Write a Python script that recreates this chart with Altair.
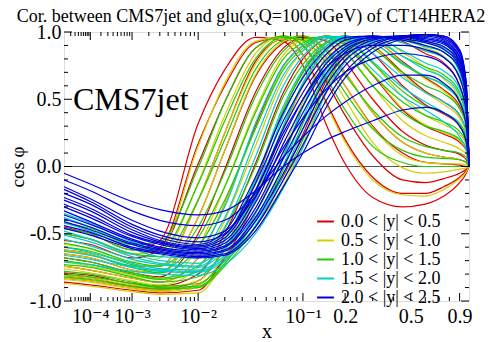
import altair as alt
import pandas as pd

# ---------------- data ----------------
XG = [1e-5, 1e-4, 1e-3, 3e-3, 1e-2, 2e-2, 4e-2, 7e-2, 0.1, 0.15, 0.2, 0.3, 0.45, 0.6, 0.75, 0.9, 0.97, 1.0]

BINS = ["0.0 < |y| < 0.5", "0.5 < |y| < 1.0", "1.0 < |y| < 1.5", "1.5 < |y| < 2.0", "2.0 < |y| < 2.5"]
COLORS = ["#dd0000", "#d6cc00", "#22cc00", "#00cccc", "#0000dd"]

RED = [
    [-0.45, -0.50, -0.62, -0.55, 0.32, 0.72, 0.96, 0.93, 0.75, 0.30, 0.02, -0.23, -0.30, -0.28, -0.22, -0.12, -0.05, 0.00],
    [-0.50, -0.54, -0.65, -0.60, 0.17, 0.60, 0.92, 0.96, 0.83, 0.47, 0.20, -0.08, -0.20, -0.20, -0.15, -0.08, -0.03, 0.00],
    [-0.55, -0.58, -0.68, -0.62, 0.02, 0.48, 0.88, 0.97, 0.90, 0.62, 0.38, 0.08, -0.10, -0.12, -0.09, -0.05, -0.02, 0.00],
    [-0.62, -0.65, -0.74, -0.74, -0.25, 0.25, 0.78, 0.95, 0.96, 0.80, 0.60, 0.30, 0.10, 0.03, 0.02, 0.01, 0.00, 0.00],
    [-0.65, -0.68, -0.77, -0.79, -0.38, 0.12, 0.67, 0.92, 0.97, 0.87, 0.70, 0.40, 0.18, 0.10, 0.07, 0.05, 0.03, 0.00],
    [-0.68, -0.71, -0.79, -0.82, -0.50, -0.02, 0.55, 0.88, 0.96, 0.93, 0.78, 0.50, 0.26, 0.16, 0.12, 0.09, 0.05, 0.00],
    [-0.74, -0.77, -0.83, -0.86, -0.68, -0.28, 0.30, 0.75, 0.90, 0.97, 0.92, 0.68, 0.42, 0.30, 0.24, 0.18, 0.12, 0.00],
    [-0.79, -0.81, -0.87, -0.89, -0.80, -0.50, 0.02, 0.55, 0.80, 0.95, 0.97, 0.84, 0.60, 0.46, 0.39, 0.30, 0.20, 0.00],
    [-0.81, -0.83, -0.89, -0.91, -0.85, -0.60, -0.12, 0.42, 0.70, 0.92, 0.97, 0.90, 0.70, 0.56, 0.48, 0.38, 0.25, 0.00],
    [-0.83, -0.85, -0.90, -0.92, -0.88, -0.68, -0.25, 0.28, 0.60, 0.88, 0.96, 0.94, 0.78, 0.66, 0.57, 0.45, 0.30, 0.00],
    [-0.86, -0.88, -0.92, -0.94, -0.92, -0.68, -0.38, -0.07, 0.24, 0.65, 0.85, 0.97, 0.93, 0.84, 0.77, 0.60, 0.40, 0.00],
]
YELLOW = [
    [-0.50, -0.54, -0.65, -0.62, 0.15, 0.62, 0.93, 0.96, 0.82, 0.45, 0.18, -0.10, -0.21, -0.22, -0.17, -0.09, -0.04, 0.00],
    [-0.58, -0.61, -0.71, -0.68, -0.12, 0.38, 0.84, 0.97, 0.93, 0.72, 0.50, 0.18, -0.01, -0.05, -0.04, -0.02, -0.01, 0.00],
    [-0.62, -0.65, -0.74, -0.74, -0.25, 0.25, 0.76, 0.95, 0.95, 0.80, 0.60, 0.29, 0.08, 0.03, 0.02, 0.02, 0.01, 0.00],
    [-0.65, -0.68, -0.77, -0.79, -0.38, 0.12, 0.68, 0.93, 0.97, 0.87, 0.70, 0.40, 0.18, 0.10, 0.07, 0.05, 0.03, 0.00],
    [-0.71, -0.74, -0.81, -0.84, -0.60, -0.15, 0.42, 0.83, 0.94, 0.96, 0.86, 0.60, 0.34, 0.23, 0.18, 0.13, 0.09, 0.00],
    [-0.74, -0.77, -0.83, -0.86, -0.68, -0.28, 0.28, 0.74, 0.90, 0.97, 0.91, 0.69, 0.43, 0.31, 0.25, 0.19, 0.13, 0.00],
    [-0.76, -0.79, -0.85, -0.88, -0.75, -0.40, 0.15, 0.65, 0.86, 0.97, 0.95, 0.77, 0.52, 0.38, 0.31, 0.24, 0.16, 0.00],
    [-0.81, -0.83, -0.88, -0.90, -0.85, -0.60, -0.10, 0.42, 0.72, 0.92, 0.97, 0.90, 0.68, 0.55, 0.46, 0.36, 0.24, 0.00],
    [-0.83, -0.85, -0.90, -0.92, -0.88, -0.66, -0.22, 0.27, 0.60, 0.87, 0.95, 0.94, 0.77, 0.65, 0.56, 0.43, 0.29, 0.00],
    [-0.84, -0.86, -0.91, -0.93, -0.90, -0.72, -0.35, 0.12, 0.48, 0.82, 0.93, 0.97, 0.85, 0.74, 0.65, 0.50, 0.33, 0.00],
    [-0.87, -0.89, -0.93, -0.95, -0.94, -0.72, -0.45, -0.14, 0.17, 0.58, 0.80, 0.95, 0.96, 0.88, 0.82, 0.65, 0.44, 0.00],
]
GREEN = [
    [-0.42, -0.46, -0.58, -0.56, -0.01, 0.48, 0.88, 0.97, 0.90, 0.65, 0.42, 0.15, 0.03, 0.00, 0.00, 0.00, 0.00, 0.00],
    [-0.46, -0.50, -0.62, -0.62, -0.13, 0.34, 0.80, 0.96, 0.94, 0.76, 0.55, 0.28, 0.12, 0.07, 0.06, 0.05, 0.03, 0.00],
    [-0.50, -0.54, -0.65, -0.67, -0.25, 0.20, 0.72, 0.94, 0.97, 0.85, 0.68, 0.42, 0.22, 0.15, 0.12, 0.10, 0.07, 0.00],
    [-0.57, -0.61, -0.71, -0.74, -0.45, -0.04, 0.52, 0.86, 0.95, 0.96, 0.85, 0.60, 0.40, 0.30, 0.26, 0.20, 0.14, 0.00],
    [-0.60, -0.63, -0.73, -0.77, -0.53, -0.15, 0.40, 0.80, 0.92, 0.97, 0.90, 0.68, 0.48, 0.38, 0.33, 0.26, 0.18, 0.00],
    [-0.63, -0.66, -0.75, -0.79, -0.60, -0.25, 0.28, 0.72, 0.88, 0.97, 0.94, 0.77, 0.56, 0.45, 0.40, 0.32, 0.22, 0.00],
    [-0.68, -0.71, -0.79, -0.83, -0.74, -0.46, 0.00, 0.52, 0.76, 0.93, 0.97, 0.88, 0.70, 0.60, 0.54, 0.43, 0.30, 0.00],
    [-0.70, -0.73, -0.80, -0.84, -0.78, -0.54, -0.10, 0.42, 0.70, 0.90, 0.96, 0.92, 0.76, 0.67, 0.61, 0.49, 0.34, 0.00],
    [-0.73, -0.75, -0.82, -0.86, -0.82, -0.62, -0.20, 0.30, 0.62, 0.87, 0.95, 0.95, 0.82, 0.74, 0.68, 0.55, 0.37, 0.00],
    [-0.78, -0.80, -0.86, -0.89, -0.87, -0.70, -0.35, 0.07, 0.44, 0.78, 0.91, 0.97, 0.92, 0.86, 0.81, 0.67, 0.46, 0.00],
    [-0.80, -0.82, -0.87, -0.90, -0.89, -0.72, -0.40, -0.02, 0.32, 0.70, 0.87, 0.96, 0.95, 0.90, 0.85, 0.71, 0.49, 0.00],
    [-0.82, -0.84, -0.89, -0.91, -0.90, -0.74, -0.45, -0.10, 0.20, 0.62, 0.83, 0.95, 0.97, 0.93, 0.89, 0.75, 0.52, 0.00],
]
CYAN = [
    [-0.35, -0.42, -0.56, -0.62, -0.60, -0.30, 0.32, 0.75, 0.90, 0.97, 0.92, 0.72, 0.52, 0.42, 0.33, 0.22, 0.12, 0.00],
    [-0.38, -0.45, -0.58, -0.64, -0.64, -0.38, 0.20, 0.68, 0.86, 0.96, 0.95, 0.78, 0.59, 0.48, 0.40, 0.30, 0.18, 0.00],
    [-0.42, -0.48, -0.61, -0.67, -0.68, -0.45, 0.07, 0.60, 0.82, 0.95, 0.97, 0.84, 0.66, 0.55, 0.48, 0.38, 0.25, 0.00],
    [-0.48, -0.54, -0.65, -0.70, -0.72, -0.55, -0.10, 0.45, 0.72, 0.92, 0.97, 0.92, 0.77, 0.67, 0.60, 0.48, 0.32, 0.00],
    [-0.51, -0.56, -0.67, -0.72, -0.74, -0.59, -0.18, 0.38, 0.67, 0.90, 0.96, 0.94, 0.82, 0.72, 0.66, 0.53, 0.36, 0.00],
    [-0.54, -0.59, -0.69, -0.73, -0.75, -0.62, -0.25, 0.30, 0.62, 0.87, 0.95, 0.96, 0.86, 0.77, 0.71, 0.58, 0.40, 0.00],
    [-0.60, -0.64, -0.72, -0.76, -0.77, -0.66, -0.35, 0.08, 0.45, 0.78, 0.91, 0.97, 0.92, 0.86, 0.81, 0.66, 0.46, 0.00],
    [-0.63, -0.66, -0.74, -0.77, -0.78, -0.68, -0.40, 0.01, 0.36, 0.73, 0.88, 0.96, 0.94, 0.89, 0.85, 0.70, 0.48, 0.00],
    [-0.66, -0.69, -0.75, -0.78, -0.79, -0.70, -0.44, -0.06, 0.28, 0.68, 0.85, 0.95, 0.96, 0.92, 0.88, 0.73, 0.50, 0.00],
    [-0.71, -0.73, -0.78, -0.80, -0.81, -0.73, -0.50, -0.16, 0.14, 0.56, 0.78, 0.93, 0.97, 0.95, 0.92, 0.78, 0.54, 0.00],
]
BLUE = [
    [-0.05, -0.13, -0.26, -0.32, -0.36, -0.33, -0.18, 0.00, 0.10, 0.20, 0.26, 0.34, 0.42, 0.44, 0.40, 0.30, 0.18, 0.00],
    [-0.10, -0.18, -0.33, -0.40, -0.44, -0.40, -0.20, 0.07, 0.22, 0.38, 0.48, 0.60, 0.68, 0.68, 0.62, 0.48, 0.30, 0.00],
    [-0.15, -0.24, -0.40, -0.48, -0.53, -0.48, -0.22, 0.14, 0.36, 0.58, 0.70, 0.80, 0.84, 0.82, 0.76, 0.60, 0.40, 0.00],
    [-0.17, -0.26, -0.43, -0.51, -0.56, -0.50, -0.18, 0.25, 0.50, 0.74, 0.84, 0.90, 0.90, 0.87, 0.81, 0.66, 0.45, 0.00],
    [-0.20, -0.28, -0.45, -0.53, -0.58, -0.48, -0.08, 0.40, 0.66, 0.88, 0.96, 0.97, 0.94, 0.90, 0.85, 0.72, 0.50, 0.00],
    [-0.23, -0.31, -0.47, -0.55, -0.59, -0.51, -0.13, 0.34, 0.60, 0.84, 0.94, 0.97, 0.95, 0.92, 0.87, 0.74, 0.52, 0.00],
    [-0.25, -0.33, -0.49, -0.56, -0.60, -0.53, -0.18, 0.28, 0.55, 0.80, 0.91, 0.96, 0.96, 0.93, 0.89, 0.76, 0.53, 0.00],
    [-0.28, -0.36, -0.51, -0.57, -0.61, -0.55, -0.23, 0.22, 0.50, 0.77, 0.89, 0.96, 0.97, 0.94, 0.91, 0.78, 0.54, 0.00],
    [-0.30, -0.38, -0.52, -0.58, -0.62, -0.57, -0.27, 0.17, 0.45, 0.74, 0.87, 0.95, 0.97, 0.95, 0.92, 0.79, 0.55, 0.00],
    [-0.33, -0.41, -0.54, -0.60, -0.63, -0.59, -0.31, 0.11, 0.40, 0.70, 0.85, 0.95, 0.97, 0.96, 0.93, 0.81, 0.56, 0.00],
    [-0.36, -0.43, -0.55, -0.61, -0.64, -0.60, -0.34, 0.06, 0.34, 0.66, 0.82, 0.94, 0.97, 0.97, 0.94, 0.82, 0.57, 0.00],
    [-0.39, -0.45, -0.57, -0.62, -0.65, -0.62, -0.38, 0.00, 0.28, 0.61, 0.79, 0.92, 0.97, 0.98, 0.95, 0.84, 0.59, 0.00],
    [-0.41, -0.47, -0.58, -0.63, -0.66, -0.63, -0.41, -0.05, 0.22, 0.56, 0.75, 0.90, 0.97, 0.98, 0.96, 0.85, 0.60, 0.00],
    [-0.44, -0.49, -0.60, -0.64, -0.67, -0.65, -0.45, -0.10, 0.16, 0.50, 0.70, 0.88, 0.96, 0.98, 0.97, 0.86, 0.61, 0.00],
    [-0.46, -0.51, -0.61, -0.65, -0.68, -0.66, -0.48, -0.15, 0.10, 0.45, 0.66, 0.85, 0.95, 0.98, 0.97, 0.87, 0.62, 0.00],
]
SERIES = [RED, YELLOW, GREEN, CYAN, BLUE]

X_MAJOR = [1e-4, 1e-3, 1e-2, 0.1, 0.2, 0.5, 0.9]
X_MAJOR_LABELS = ["10\u207b\u2074", "10\u207b\u00b3", "10\u207b\u00b2", "10\u207b\u00b9", "0.2", "0.5", "0.9"]
X_MINOR = [m * 10.0 ** k for k in range(-5, -1) for m in range(2, 10)] + [0.3, 0.4, 0.6, 0.7, 0.8]
Y_MAJOR = [-1.0, -0.5, 0.0, 0.5, 1.0]
Y_MAJOR_LABELS = ["-1.0", "-0.5", "0.0", "0.5", "1.0"]
Y_MINOR = [-0.9, -0.8, -0.7, -0.6, -0.4, -0.3, -0.2, -0.1, 0.1, 0.2, 0.3, 0.4, 0.6, 0.7, 0.8, 0.9]

TITLE = ["Cor. between CMS7jet and glu(x,Q=100.0GeV) of CT14HERA2"]
ANNOT = ["CMS7jet"]

# ---------------- layout ----------------
W, H = 405, 269
FONT = "Liberation Serif, Times New Roman, Times, DejaVu Serif, serif"


def label_expr(vals, labels):
    parts = []
    for v, lab in zip(vals, labels):
        tol = abs(v) * 1e-3 + 1e-9
        parts.append(f"abs(datum.value - ({v!r})) < {tol!r} ? '{lab}'")
    return " : ".join(parts) + " : ''"


xscale = alt.Scale(type="pow", exponent=0.2, domain=[1e-5, 1.0], nice=False, zero=False)
yscale = alt.Scale(domain=[-1.0, 1.0], nice=False, zero=False)

xaxis = alt.Axis(values=X_MAJOR, labelExpr=label_expr(X_MAJOR, X_MAJOR_LABELS), ticks=False,
                 domain=False, grid=False, labelFont=FONT, labelFontSize=20, labelColor="black",
                 labelPadding=5, labelFlush=False, labelOverlap=False, labelBound=False,
                 titleFont=FONT, titleFontSize=20, titleFontWeight="normal", titleColor="black",
                 titleY=36, titleBaseline="alphabetic")
yaxis = alt.Axis(values=Y_MAJOR, labelExpr=label_expr(Y_MAJOR, Y_MAJOR_LABELS), ticks=False,
                 domain=False, grid=False, labelFont=FONT, labelFontSize=20, labelColor="black",
                 labelPadding=3, labelFlush=False, labelOverlap=False,
                 titleFont=FONT, titleFontSize=19, titleFontWeight="normal", titleColor="black",
                 titleX=-47, titleY=H / 2, titleBaseline="middle", titleAngle=270)


def X(field):
    return alt.X(field, type="quantitative", scale=xscale, axis=xaxis, title="x")


def Y(field):
    return alt.Y(field, type="quantitative", scale=yscale, axis=yaxis, title="cos \u03c6")


color = alt.Color("bin:N", scale=alt.Scale(domain=BINS, range=COLORS),
                  legend=alt.Legend(title=None, orient="none", legendX=252, legendY=180,
                                    symbolType="stroke", symbolSize=280, symbolStrokeWidth=2,
                                    labelFont=FONT, labelFontSize=18, labelColor="black",
                                    labelOffset=6, rowPadding=-2, padding=0))

layers = []

zero_df = pd.DataFrame({"z": [0.0]})
layers.append(alt.Chart(zero_df).mark_rule(color="#555555", strokeWidth=1).encode(y=Y("z")))

for b, curves in enumerate(SERIES):
    rows = []
    for c, ys in enumerate(curves):
        for i, (xv, yv) in enumerate(zip(XG, ys)):
            rows.append({"x": xv, "y": yv, "bin": BINS[b], "curve": f"{b}-{c:02d}", "i": i})
    df = pd.DataFrame(rows)
    layers.append(alt.Chart(df).mark_line(strokeWidth=1.2, interpolate="monotone").encode(
        x=X("x"), y=Y("y"), color=color, detail="curve:N", order="i:Q"))

xmaj = pd.DataFrame({"t": X_MAJOR})
xmin = pd.DataFrame({"t": X_MINOR})
ymaj = pd.DataFrame({"t": Y_MAJOR})
ymin = pd.DataFrame({"t": Y_MINOR})
tick = dict(color="black", strokeWidth=1)
for df, L in [(xmaj, 8), (xmin, 4)]:
    layers.append(alt.Chart(df).mark_rule(**tick).encode(x=X("t"), y=alt.value(H), y2=alt.value(H - L)))
    layers.append(alt.Chart(df).mark_rule(**tick).encode(x=X("t"), y=alt.value(0), y2=alt.value(L)))
for df, L in [(ymaj, 8), (ymin, 4)]:
    layers.append(alt.Chart(df).mark_rule(**tick).encode(y=Y("t"), x=alt.value(0), x2=alt.value(L)))
    layers.append(alt.Chart(df).mark_rule(**tick).encode(y=Y("t"), x=alt.value(W), x2=alt.value(W - L)))

annot_df = pd.DataFrame({"label": ANNOT})
layers.append(alt.Chart(annot_df).mark_text(font=FONT, fontSize=32, align="left", baseline="alphabetic",
                                            color="black").encode(
    x=alt.value(9), y=alt.value(78), text="label:N"))

title_df = pd.DataFrame({"label": TITLE})
layers.append(alt.Chart(title_df).mark_text(font=FONT, fontSize=18, align="center", baseline="alphabetic",
                                            color="black").encode(
    x=alt.value(187), y=alt.value(-10), text="label:N"))

chart = alt.layer(*layers).properties(
    width=W, height=H,
    autosize=alt.AutoSizeParams(type="none"),
    padding={"left": 64, "top": 32, "right": 25, "bottom": 41},
).configure_view(stroke="black", strokeWidth=1.5).configure(background="white")

chart.save("out.html", embed_options={"renderer": "svg", "actions": False})
